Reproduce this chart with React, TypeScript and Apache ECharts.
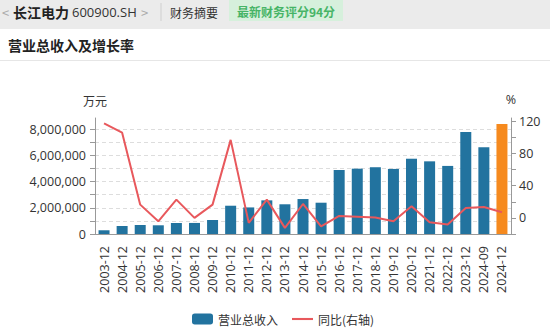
import React, { useEffect, useRef } from "react";
import * as echarts from "echarts";

const categories = [
  "2003-12", "2004-12", "2005-12", "2006-12", "2007-12", "2008-12", "2009-12",
  "2010-12", "2011-12", "2012-12", "2013-12", "2014-12", "2015-12", "2016-12",
  "2017-12", "2018-12", "2019-12", "2020-12", "2021-12", "2022-12", "2023-12",
  "2024-09", "2024-12",
];

// 营业总收入 (万元)
const revenue = [
  285000, 612000, 688000, 665000, 840000, 845000, 1070000,
  2160000, 2030000, 2570000, 2270000, 2670000, 2390000, 4890000,
  4990000, 5100000, 4970000, 5750000, 5550000, 5200000, 7790000,
  6620000, 8400000,
];

// 同比 (%)
const yoy = [
  117.6, 106, 16.5, -4.2, 22.7, 0, 16.5,
  97, -6.2, 22.7, -12.4, 17.3, -10.4, 2.5,
  1.5, 0.5, -4.2, 14.4, -5.4, -8.3, 12.4,
  13.6, 7,
];

const leftLabelValues = [0, 2000000, 4000000, 6000000, 8000000];
const leftTickValues = [0, 1000000, 2000000, 3000000, 4000000, 5000000, 6000000, 7000000, 8000000];
const rightLabelValues = [0, 40, 80, 120];
const rightTickValues = [-20, 0, 20, 40, 60, 80, 100, 120];

const BLUE = "#22739f";
const ORANGE = "#f68a1e";
const RED = "#e8585c";
const FONT = "'Open Sans', 'Noto Sans CJK SC', sans-serif";

export default function App() {
  const ref = useRef<HTMLDivElement>(null);

  useEffect(() => {
    document.body.style.margin = "0";
    const chart = echarts.init(ref.current!, undefined, { renderer: "svg" });
    const lastIdx = revenue.length - 1;
    chart.setOption({
      animation: false,
      backgroundColor: "#ffffff",
      textStyle: { fontFamily: FONT },
      graphic: [
        { type: "rect", shape: { x: 0, y: 0, width: 550, height: 29 }, style: { fill: "#ebebeb" }, silent: true },
        { type: "text", x: 2, y: 12, style: { text: "<", fill: "#aaaaaa", font: "13px 'Noto Sans CJK SC'", verticalAlign: "middle" } },
        { type: "text", x: 13, y: 12, style: { text: "长江电力", fill: "#222222", font: "bold 14px 'Noto Sans CJK SC'", verticalAlign: "middle" } },
        { type: "text", x: 72, y: 12, style: { text: "600900.SH", fill: "#333333", font: "13px 'Open Sans'", verticalAlign: "middle" } },
        { type: "text", x: 141, y: 12, style: { text: ">", fill: "#aaaaaa", font: "13px 'Noto Sans CJK SC'", verticalAlign: "middle" } },
        { type: "line", shape: { x1: 161, y1: 3, x2: 161, y2: 21 }, style: { stroke: "#cfcfcf", lineWidth: 1 } },
        { type: "text", x: 170, y: 12, style: { text: "财务摘要", fill: "#333333", font: "12px 'Noto Sans CJK SC'", verticalAlign: "middle" } },
        { type: "rect", shape: { x: 229, y: 0, width: 114, height: 21 }, style: { fill: "#d6f0dc" } },
        { type: "text", x: 286, y: 11, style: { text: "最新财务评分94分", fill: "#46b466", font: "bold 12px 'Noto Sans CJK SC'", align: "center", verticalAlign: "middle" } },
        { type: "text", x: 8, y: 45, style: { text: "营业总收入及增长率", fill: "#222222", font: "bold 14px 'Noto Sans CJK SC'", verticalAlign: "middle" } },
        { type: "line", shape: { x1: 0, y1: 60.5, x2: 550, y2: 60.5 }, style: { stroke: "#e6e6e6", lineWidth: 1 } },
      ],
      grid: { left: 95, right: 39, top: 118, bottom: 97 },
      legend: {
        left: 187,
        top: 308,
        itemWidth: 21,
        itemHeight: 11,
        itemGap: 14,
        textStyle: { fontSize: 12, color: "#333333", fontFamily: "'Noto Sans CJK SC'" },
        data: [
          { name: "营业总收入", icon: "roundRect", itemStyle: { color: BLUE } },
          { name: "同比(右轴)", icon: "path://M0,0 L20,0 L20,2 L0,2 Z", itemStyle: { color: RED } },
        ],
      },
      xAxis: {
        type: "category",
        data: categories,
        axisLine: { lineStyle: { color: "#999999" } },
        axisTick: { alignWithLabel: true, length: 7, lineStyle: { color: "#999999" } },
        axisLabel: { rotate: 90, interval: 0, fontSize: 12.5, color: "#333333", margin: 12 },
      },
      yAxis: [
        {
          type: "value",
          min: 0,
          max: 8860000,
          interval: 1000000,
          name: "万元",
          nameLocation: "end",
          nameGap: 12,
          nameTextStyle: { fontSize: 12, color: "#333333", align: "center", fontFamily: "'Noto Sans CJK SC'" },
          axisLine: { show: true, lineStyle: { color: "#999999" } },
          axisTick: { show: true, length: 5, customValues: leftTickValues, lineStyle: { color: "#999999" } },
          axisLabel: {
            fontSize: 12.5,
            color: "#333333",
            margin: 9,
            customValues: leftLabelValues,
            formatter: (v: number) => v.toLocaleString("en-US"),
          },
          splitLine: { show: true, lineStyle: { color: "#dddddd", type: [4, 3] } },
        },
        {
          type: "value",
          min: -20,
          max: 124.2,
          interval: 20,
          name: "%",
          nameLocation: "end",
          nameGap: 12,
          nameTextStyle: { fontSize: 12.5, color: "#333333", align: "center" },
          axisLine: { show: true, lineStyle: { color: "#999999" } },
          axisTick: { show: true, length: 5, customValues: rightTickValues, lineStyle: { color: "#999999" } },
          axisLabel: { fontSize: 12.5, color: "#333333", margin: 8, customValues: rightLabelValues },
          splitLine: { show: false },
        },
      ],
      series: [
        {
          name: "营业总收入",
          type: "bar",
          yAxisIndex: 0,
          barWidth: 11,
          itemStyle: { color: BLUE },
          data: revenue.map((v, i) => (i === lastIdx ? { value: v, itemStyle: { color: ORANGE } } : v)),
        },
        {
          name: "同比(右轴)",
          type: "line",
          yAxisIndex: 1,
          data: yoy,
          showSymbol: false,
          symbol: "none",
          lineStyle: { color: RED, width: 2 },
          itemStyle: { color: RED },
        },
      ],
    });
    return () => chart.dispose();
  }, []);

  return <div ref={ref} style={{ width: 550, height: 331 }} />;
}
